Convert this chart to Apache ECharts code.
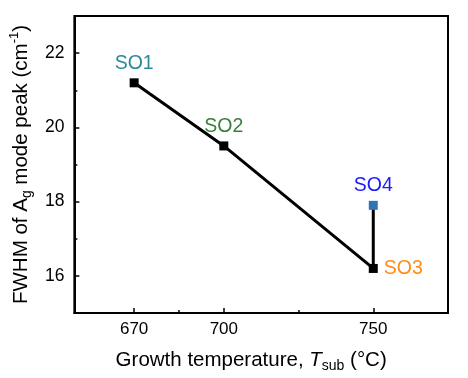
<!DOCTYPE html>
<html>
<head>
<meta charset="utf-8">
<script src="https://cdn.jsdelivr.net/npm/echarts@6/dist/echarts.min.js"></script>
<style>html,body{margin:0;padding:0;background:#fff}#c{width:468px;height:378px}</style>
</head>
<body>
<div id="c"></div>
<script>
const sampleNames = ['SO1', 'SO2', 'SO3', 'SO4'];
const growthTemps = [670, 700, 750, 750];
const fwhmValues = [21.2, 19.5, 16.2, 17.9];
const labelColors = ['#2b8b9b', '#3a7f3a', '#ff8c1a', '#1a1aff'];
const markerColors = ['#000000', '#000000', '#000000', '#2f75b5'];
const labelPositions = ['top', 'top', 'right', 'top'];
const xMajorTicks = [670, 700, 750];
const xMinorTicks = [685, 725];
const yMajorTicks = [16, 18, 20, 22];
const yMinorTicks = [17, 19, 21];

const font = 'Liberation Sans, Arial, sans-serif';
const chart = echarts.init(document.getElementById('c'));

const pts = growthTemps.map((t, i) => ({
  value: [t, fwhmValues[i]],
  itemStyle: { color: markerColors[i] },
  label: {
    show: true,
    formatter: sampleNames[i],
    position: labelPositions[i],
    color: labelColors[i],
    fontSize: 19.5,
    fontFamily: font,
    distance: labelPositions[i] === 'right' ? 6 : 5
  }
}));

const axisLineStyle = { lineStyle: { color: '#000', width: 2 } };

chart.setOption({
  animation: false,
  grid: { left: 73, right: 20, top: 16, bottom: 61, show: true, borderColor: '#000', borderWidth: 2, backgroundColor: 'transparent' },
  xAxis: [
    {
      type: 'value', min: 650, max: 775,
      axisLine: { show: true, onZero: false, ...axisLineStyle },
      splitLine: { show: false },
      axisTick: { show: true, inside: true, length: 5, customValues: xMajorTicks, lineStyle: { color: '#000', width: 1.5 } },
      axisLabel: { customValues: xMajorTicks, fontSize: 17, color: '#000', fontFamily: font, margin: 8 },
      name: '{n|Growth temperature, }{i|T}{s|sub}{n| (°C)}',
      nameLocation: 'middle', nameGap: 34,
      nameTextStyle: {
        fontFamily: font,
        padding: [0, 20, 0, 0],
        rich: {
          n: { fontSize: 20.5, color: '#000', fontFamily: font, verticalAlign: 'middle', lineHeight: 26 },
          i: { fontSize: 20.5, color: '#000', fontFamily: font, fontStyle: 'italic', verticalAlign: 'middle', lineHeight: 26 },
          s: { fontSize: 14, color: '#000', fontFamily: font, verticalAlign: 'bottom', lineHeight: 20, padding: [10, 0, 0, 0] }
        }
      }
    },
    {
      type: 'value', min: 650, max: 775, position: 'bottom',
      axisLine: { show: false },
      splitLine: { show: false },
      axisTick: { show: true, inside: true, length: 3, customValues: xMinorTicks, lineStyle: { color: '#000', width: 1.5 } },
      axisLabel: { show: false }
    }
  ],
  yAxis: [
    {
      type: 'value', min: 15, max: 23,
      axisLine: { show: true, onZero: false, ...axisLineStyle },
      splitLine: { show: false },
      axisTick: { show: true, inside: true, length: 5, customValues: yMajorTicks, lineStyle: { color: '#000', width: 1.5 } },
      axisLabel: { customValues: yMajorTicks, fontSize: 17.5, color: '#000', fontFamily: font, margin: 10 },
      name: '{n|FWHM of A}{s|g}{n| mode peak (cm}{p|-1}{n|)}',
      nameLocation: 'middle', nameGap: 40, nameRotate: 90,
      nameTextStyle: {
        fontFamily: font,
        rich: {
          n: { fontSize: 20.5, color: '#000', fontFamily: font, verticalAlign: 'middle', lineHeight: 26 },
          s: { fontSize: 14, color: '#000', fontFamily: font, verticalAlign: 'bottom', lineHeight: 20, padding: [10, 0, 0, 0] },
          p: { fontSize: 13, color: '#000', fontFamily: font, verticalAlign: 'top', lineHeight: 20, padding: [0, 0, 10, 0] }
        }
      }
    },
    {
      type: 'value', min: 15, max: 23, position: 'left',
      axisLine: { show: false },
      splitLine: { show: false },
      axisTick: { show: true, inside: true, length: 3, customValues: yMinorTicks, lineStyle: { color: '#000', width: 1.5 } },
      axisLabel: { show: false }
    }
  ],
  series: [{
    type: 'line',
    data: pts,
    symbol: 'rect',
    symbolSize: 9,
    lineStyle: { color: '#000', width: 3 },
    z: 3
  }]
});
</script>
</body>
</html>
